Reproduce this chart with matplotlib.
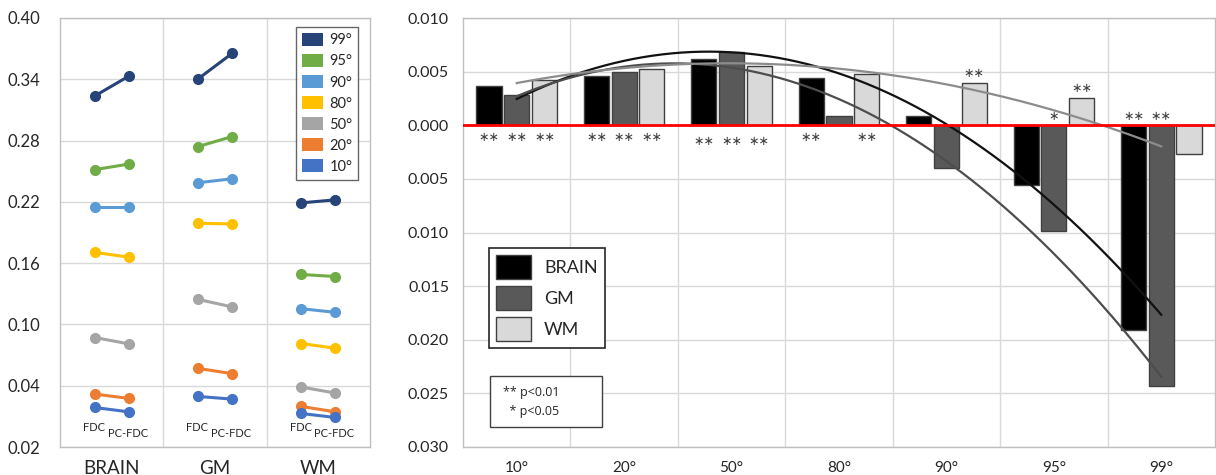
import numpy as np
import matplotlib
matplotlib.use("Agg")
import matplotlib.pyplot as plt
from matplotlib.patches import Patch, Rectangle
from matplotlib.ticker import FuncFormatter

plt.rcParams['font.family'] = ['Lato', 'DejaVu Sans']

# ---------------- data: left panel ----------------
regions = ["BRAIN", "GM", "WM"]
methods = ["FDC", "PC-FDC"]
pct_labels = ["99°", "95°", "90°", "80°", "50°", "20°", "10°"]
pct_colors = ["#264478", "#70AD47", "#5B9BD5", "#FFC000", "#A5A5A5", "#ED7D31", "#4472C4"]
# values [region][percentile] = (FDC, PC-FDC)
brain_vals = [(0.3236, 0.343), (0.2515, 0.257), (0.2148, 0.2148), (0.1705, 0.1659),
              (0.0872, 0.081), (0.0318, 0.0276), (0.0187, 0.0144)]
gm_vals = [(0.3403, 0.3653), (0.2741, 0.2839), (0.2387, 0.2426), (0.199, 0.1984),
           (0.1246, 0.1171), (0.057, 0.0518), (0.0295, 0.0269)]
wm_vals = [(0.219, 0.222), (0.1489, 0.1469), (0.1154, 0.1118), (0.0813, 0.0767),
           (0.0387, 0.0328), (0.0197, 0.0144), (0.0128, 0.0089)]

# ---------------- data: right panel ----------------
bar_cats = ["10°", "20°", "50°", "80°", "90°", "95°", "99°"]
series_names = ["BRAIN", "GM", "WM"]
brain_bars = [0.0037, 0.00455, 0.00616, 0.00445, 0.0009, -0.00553, -0.01913]
gm_bars = [0.0028, 0.0050, 0.0068, 0.00084, -0.0040, -0.0099, -0.02435]
wm_bars = [0.0042, 0.0052, 0.00554, 0.0048, 0.00396, 0.00252, -0.00267]
brain_stars = ["**", "**", "**", "**", "", "", "**"]
gm_stars = ["**", "**", "**", "", "", "*", "**"]
wm_stars = ["**", "**", "**", "**", "**", "**", ""]
wm_star_above = [False, False, False, False, True, True, False]
sig_legend = ["** p<0.01", "  * p<0.05"]

# ---------------- figure ----------------
W, H = 1216, 475
fig = plt.figure(figsize=(W / 100, H / 100), dpi=100)

def ax_rect(x0, y0, x1, y1):
    return [x0 / W, 1 - y1 / H, (x1 - x0) / W, (y1 - y0) / H]

grid_c = "#D9D9D9"
text_c = "#262626"

# ---------- left panel ----------
axL = fig.add_axes(ax_rect(60, 18, 370, 447))
axL.set_xlim(-0.5, 2.5)
axL.set_ylim(-0.02, 0.40)
axL.set_yticks(np.round(np.arange(-0.02, 0.401, 0.06), 2))
axL.yaxis.set_major_formatter(FuncFormatter(lambda v, p: f"{abs(v):.2f}"))
axL.set_xticks([0, 1, 2])
axL.set_xticklabels(regions, fontsize=13.5, color=text_c)
axL.tick_params(axis='x', length=0, pad=9)
axL.tick_params(axis='y', length=0, pad=14, labelsize=12, labelcolor=text_c)
axL.set_axisbelow(True)
axL.grid(axis='y', color=grid_c, lw=1)
for xb in [0.5, 1.5]:
    axL.axvline(xb, color=grid_c, lw=1, zorder=0)
for s in axL.spines.values():
    s.set_color("#BFBFBF")
    s.set_linewidth(1)

off = 0.165
all_vals = [brain_vals, gm_vals, wm_vals]
for ri, vals in enumerate(all_vals):
    for pi, v in enumerate(vals):
        axL.plot([ri - off, ri + off], list(v), color=pct_colors[pi], lw=2.2,
                 marker='o', ms=7, zorder=3)
    axL.text(ri - off - 0.005, -0.0005, methods[0], fontsize=8, ha='center', va='center', color=text_c)
    axL.text(ri + off - 0.01, -0.0068, methods[1], fontsize=8, ha='center', va='center', color=text_c)

handlesL = [Patch(facecolor=c, edgecolor='none', label=l) for c, l in zip(pct_colors, pct_labels)]
legL = axL.legend(handles=handlesL, loc='upper right', bbox_to_anchor=(0.962, 0.979),
                  borderaxespad=0, fontsize=10.5, frameon=True, fancybox=False,
                  handlelength=1.45, handleheight=1.0, handletextpad=0.45,
                  labelspacing=0.45, borderpad=0.4, labelcolor=text_c)
legL.get_frame().set_edgecolor("#404040")
legL.get_frame().set_linewidth(1)

# ---------- right panel ----------
axR = fig.add_axes(ax_rect(463, 18, 1215, 447))
n = len(bar_cats)
x = np.arange(n)
axR.set_xlim(-0.5, n - 0.5)
axR.set_ylim(-0.030, 0.010)
axR.set_yticks(np.round(np.arange(-0.030, 0.0101, 0.005), 3))
axR.yaxis.set_major_formatter(FuncFormatter(lambda v, p: f"{abs(v):.3f}"))
axR.set_xticks(x)
axR.set_xticklabels(bar_cats, fontsize=11, color=text_c)
axR.tick_params(axis='x', length=0, pad=10)
axR.tick_params(axis='y', length=0, pad=10, labelsize=11.5, labelcolor=text_c)
axR.set_axisbelow(True)
axR.grid(axis='y', color=grid_c, lw=1)
for xb in np.arange(0.5, n - 0.5, 1):
    axR.axvline(xb, color=grid_c, lw=1, zorder=0)
for s in axR.spines.values():
    s.set_color("#BFBFBF")
    s.set_linewidth(1)

bar_colors = ["#000000", "#595959", "#D9D9D9"]
bw = 0.235
dx = 0.258
series = [brain_bars, gm_bars, wm_bars]
stars = [brain_stars, gm_stars, wm_stars]
for si, (vals, col) in enumerate(zip(series, bar_colors)):
    axR.bar(x + (si - 1) * dx, vals, width=bw, color=col, edgecolor="#404040",
            linewidth=1, zorder=2, label=series_names[si])

# significance stars
for si, (vals, st) in enumerate(zip(series, stars)):
    for ci in range(n):
        s = st[ci]
        if not s:
            continue
        xc = x[ci] + (si - 1) * dx
        v = vals[ci]
        if si == 2 and wm_star_above[ci]:
            yy, va = v + 0.0003, 'bottom'
        elif v >= 0:
            yy, va = -0.0005 - (0.0004 if ci == 2 else 0.0), 'top'
        else:
            yy, va = 0.0002, 'bottom'
        axR.text(xc, yy, s.replace("*", "∗"), fontsize=9, ha='center', va=va,
                 color="#404040", zorder=5, family='DejaVu Sans')

# polynomial (order 2) trend lines
trend_colors = ["#111111", "#4D4D4D", "#8C8C8C"]
xf = np.arange(1, n + 1)
xs = np.linspace(1, n, 200)
for vals, tc in zip(series, trend_colors):
    coef = np.polyfit(xf, vals, 2)
    axR.plot(xs - 1, np.polyval(coef, xs), color=tc, lw=1.6, zorder=4)

axR.axhline(0, color="#FF0000", lw=2, zorder=4)

handlesR = [Patch(facecolor=c, edgecolor="#404040", label=l) for c, l in zip(bar_colors, series_names)]
legR = axR.legend(handles=handlesR, loc='upper left', bbox_to_anchor=(0.0346, 0.464),
                  borderaxespad=0, fontsize=13, frameon=True, fancybox=False,
                  handlelength=1.9, handleheight=1.65, handletextpad=0.75,
                  labelspacing=0.4, borderpad=0.4, labelcolor=text_c)
legR.get_frame().set_edgecolor("#262626")
legR.get_frame().set_linewidth(1.2)
legR.get_frame().set_alpha(1)

# significance key box
axR.add_patch(Rectangle((0.0359, 0.0466), 0.149, 0.119, transform=axR.transAxes,
                        facecolor='white', edgecolor="#404040", lw=1, zorder=6))
axR.text(0.053, 0.126, sig_legend[0], transform=axR.transAxes, fontsize=9,
         ha='left', va='center', color=text_c, zorder=7, family='Open Sans')
axR.text(0.053, 0.083, sig_legend[1], transform=axR.transAxes, fontsize=9,
         ha='left', va='center', color=text_c, zorder=7, family='Open Sans')

fig.savefig("out.png", dpi=100)
